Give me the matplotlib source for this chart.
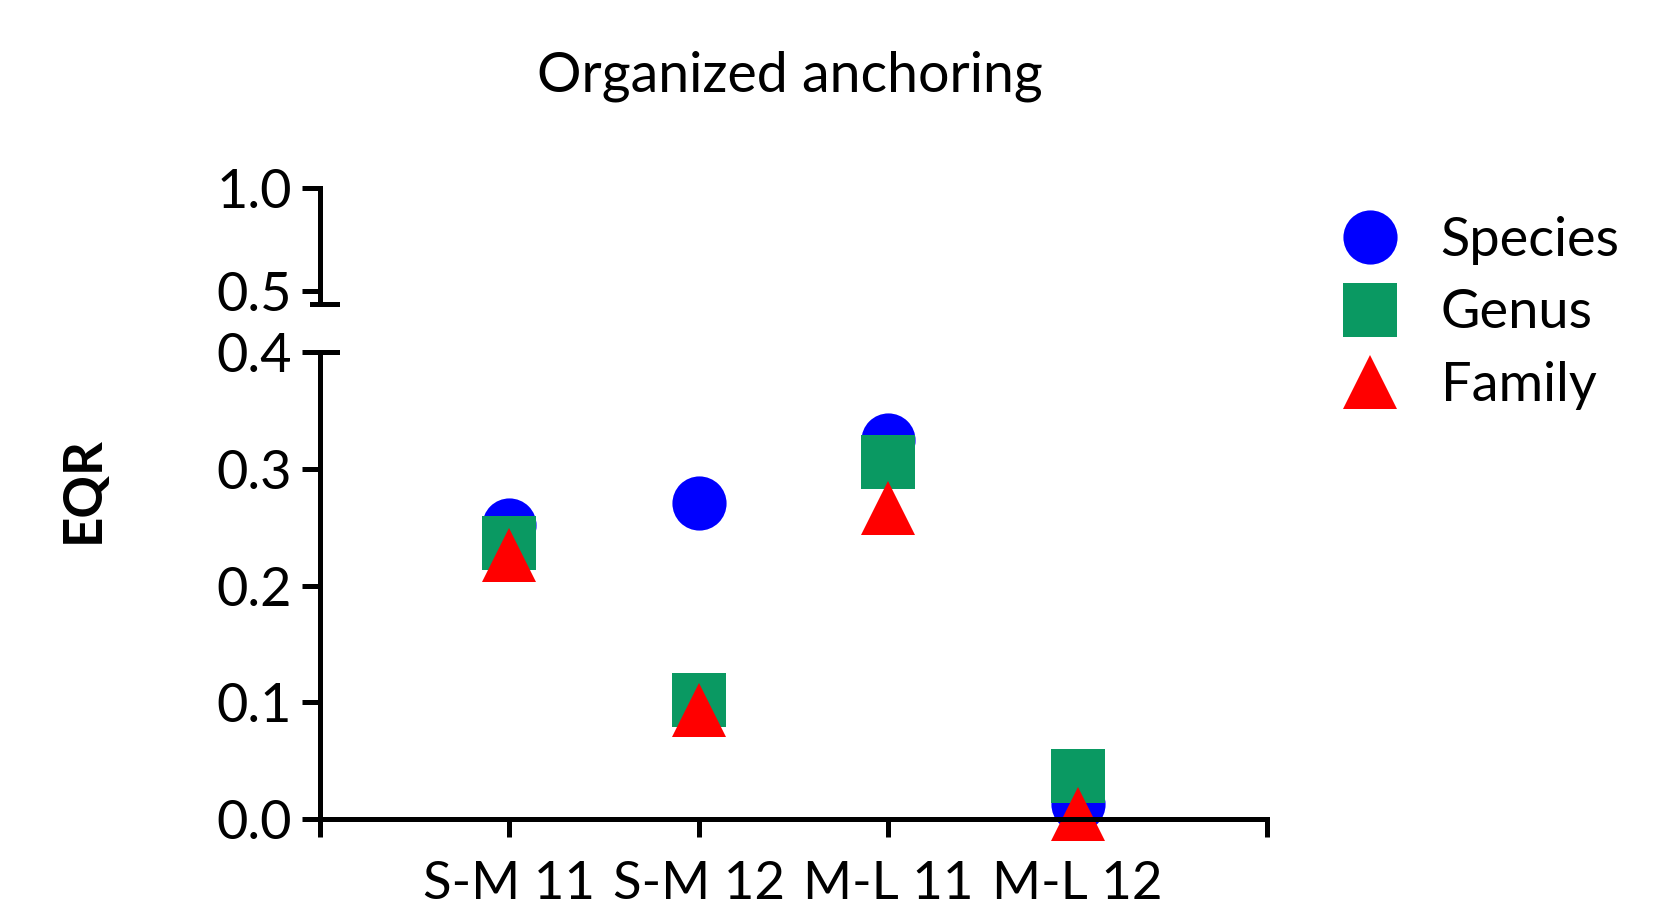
import matplotlib
matplotlib.use("Agg")
from matplotlib import pyplot as plt

plt.rcParams['font.family'] = ['Lato', 'DejaVu Sans']

# data
categories = ['S-M 11', 'S-M 12', 'M-L 11', 'M-L 12']
species = [0.252, 0.271, 0.325, 0.013]
genus = [0.236, 0.102, 0.306, 0.037]
family = [0.226, 0.093, 0.266, 0.004]

series = [
    ('Species', species, 'o', '#0000ff'),
    ('Genus', genus, 's', '#0a9962'),
    ('Family', family, '^', '#ff0000'),
]

W, H = 1660, 910
fig = plt.figure(figsize=(16.6, 9.1), dpi=100)

# axis positions in pixels (top-left origin), converted to figure fractions
def box(x0, y0, x1, y1):
    return [x0 / W, (H - y1) / H, (x1 - x0) / W, (y1 - y0) / H]

ax = fig.add_axes(box(320, 352, 1267, 819))
ax_top = fig.add_axes(box(320, 188, 1267, 304))

lw = 3.6
fs = 39
xpos = list(range(len(categories)))

handles = []
for name, vals, mk, col in series:
    h, = ax.plot(xpos, vals, linestyle='none', marker=mk, markersize=39,
                 color=col, markeredgewidth=0, label=name, clip_on=False)
    handles.append(h)

ax.set_xlim(-1, len(categories))
ax.set_ylim(0, 0.4)
ax.set_yticks([0.0, 0.1, 0.2, 0.3, 0.4])
ax.set_yticklabels(['0.0', '0.1', '0.2', '0.3', '0.4'])
ax.set_xticks(range(-1, len(categories) + 1))
ax.set_xticklabels([''] + categories + [''])

ax_top.set_xlim(-1, len(categories))
ax_top.set_ylim(0.437, 1.0)
ax_top.set_yticks([0.5, 1.0])
ax_top.set_yticklabels(['0.5', '1.0'])
ax_top.set_xticks([])

for a in (ax, ax_top):
    a.patch.set_visible(False)
    for s in ('top', 'right'):
        a.spines[s].set_visible(False)
    a.spines['left'].set_linewidth(lw)
    a.spines['bottom'].set_linewidth(lw)
    a.spines['left'].set_capstyle('projecting')
    a.spines['bottom'].set_capstyle('projecting')
    a.tick_params(axis='both', width=lw, length=13, labelsize=fs, pad=7,
                  direction='out')
ax_top.spines['bottom'].set_visible(False)
ax.tick_params(axis='x', pad=17, labelsize=38)

# break marks on the y axis
ax_top.plot([-8 / 947, 17 / 947], [0, 0], transform=ax_top.transAxes,
            color='black', lw=lw, clip_on=False, solid_capstyle='projecting')
ax.plot([0, 17 / 947], [1, 1], transform=ax.transAxes,
        color='black', lw=lw, clip_on=False, solid_capstyle='projecting')

fig.text(790 / W, 1 - 76 / H, 'Organized anchoring', fontsize=40,
         ha='center', va='center')
fig.text(83 / W, 1 - 490 / H, 'EQR', fontsize=38, fontweight='bold',
         rotation=90, ha='center', va='center')

fig.legend(handles=handles, loc='center left',
           bbox_to_anchor=(1343 / W, 1 - 313 / H), frameon=False,
           fontsize=fs, labelspacing=0.44, handletextpad=0.8,
           handlelength=1.0, borderpad=0, borderaxespad=0)

fig.savefig('out.png', dpi=100)
